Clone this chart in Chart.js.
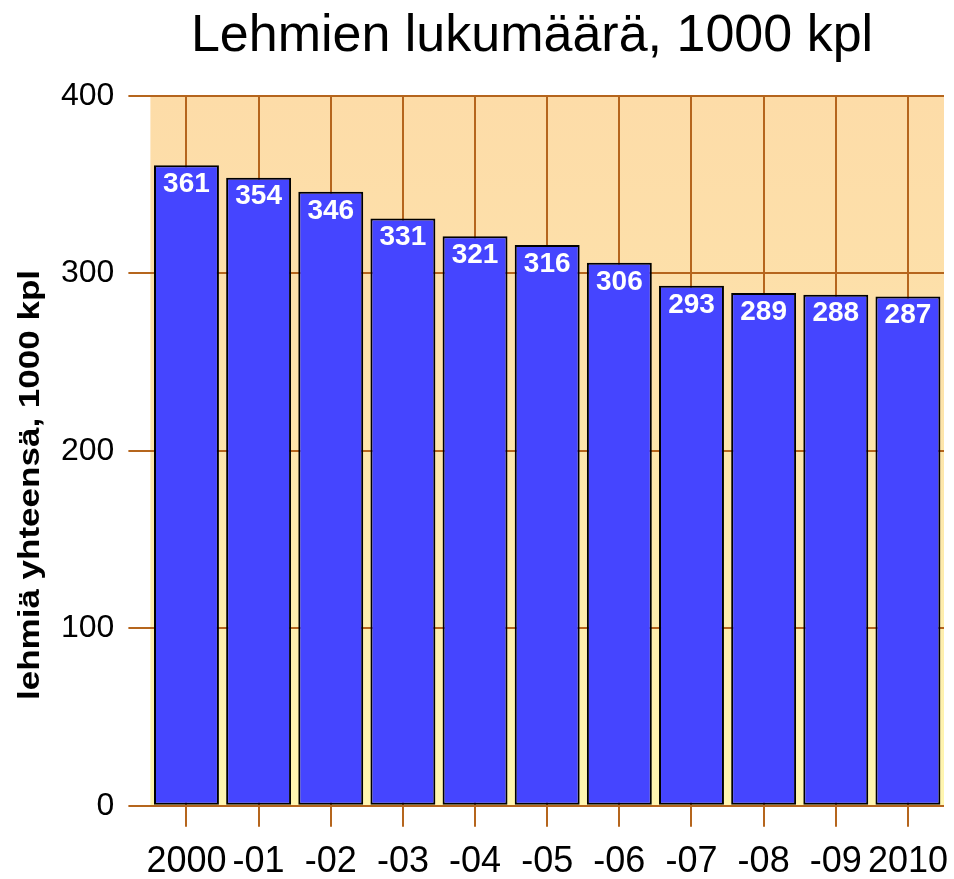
<!DOCTYPE html>
<html lang="fi">
  <head>
    <meta charset="UTF-8" />
    <title>Lehmien lukumäärä</title>
    <style>
      body {
        margin: 0;
        background: #ffffff;
        font-family: "Liberation Sans", Arial, sans-serif;
      }
      .wrap {
        width: 954px;
        height: 879px;
      }
    </style>
    <script src="https://cdn.jsdelivr.net/npm/chart.js"></script>
  </head>
  <body>
    <div class="wrap"><canvas id="cows"></canvas></div>

    <script>
      const years = ["2000", "-01", "-02", "-03", "-04", "-05", "-06", "-07", "-08", "-09", "2010"];
      const cows = [361, 354, 346, 331, 321, 316, 306, 293, 289, 288, 287];
      const yTicks = [0, 100, 200, 300, 400];

      const titleText = "Lehmien lukumäärä, 1000 kpl";
      const yTitleText = "lehmiä yhteensä, 1000 kpl";

      const brown = "#b5651d";
      const fontName = "'Liberation Sans', Arial, sans-serif";

      // peach-to-yellow fill behind the plot
      const plotBg = {
        id: "plotBg",
        beforeDraw(chart) {
          const { ctx, chartArea: a } = chart;
          const g = ctx.createLinearGradient(0, a.top, 0, a.bottom);
          g.addColorStop(0, "#fddca8");
          g.addColorStop(0.35, "#fde1aa");
          g.addColorStop(1, "#fff6b0");
          ctx.save();
          ctx.fillStyle = g;
          ctx.fillRect(a.left, a.top, a.right - a.left, a.bottom - a.top);
          ctx.restore();
        },
      };

      // white numbers inside the top of each bar
      const barValues = {
        id: "barValues",
        afterDatasetsDraw(chart) {
          const { ctx } = chart;
          const meta = chart.getDatasetMeta(0);
          ctx.save();
          ctx.fillStyle = "#ffffff";
          ctx.font = "bold 28px " + fontName;
          ctx.textAlign = "center";
          ctx.textBaseline = "top";
          meta.data.forEach((bar, i) => {
            ctx.fillText(String(cows[i]), bar.x, bar.y + 5);
          });
          ctx.restore();
        },
      };

      // main title and the (narrow, tall) y axis title
      const titles = {
        id: "titles",
        afterDraw(chart) {
          const { ctx } = chart;
          ctx.save();
          ctx.fillStyle = "#000000";
          ctx.textAlign = "center";
          ctx.textBaseline = "alphabetic";
          ctx.font = "52px " + fontName;
          ctx.fillText(titleText, 532, 51);

          ctx.font = "bold 30px " + fontName;
          const w = ctx.measureText(yTitleText).width;
          ctx.translate(39, 485);
          ctx.rotate(-Math.PI / 2);
          ctx.scale(430 / w, 1);
          ctx.fillText(yTitleText, 0, 0);
          ctx.restore();
        },
      };

      new Chart(document.getElementById("cows"), {
        type: "bar",
        data: {
          labels: years,
          datasets: [
            {
              data: cows,
              backgroundColor: "#4545ff",
              borderColor: "#000000",
              borderWidth: 2,
              borderSkipped: false,
              barPercentage: 0.9,
              categoryPercentage: 1.0,
            },
          ],
        },
        options: {
          responsive: true,
          maintainAspectRatio: false,
          animation: false,
          layout: { padding: { left: 47, right: 10, top: 96, bottom: -19 } },
          plugins: {
            legend: { display: false },
            tooltip: { enabled: false },
            title: { display: false },
          },
          scales: {
            x: {
              afterFit(scale) {
                // let the last label hang past the plot edge
                scale.paddingRight = 0;
              },
              border: { display: false },
              grid: {
                offset: false,
                color: brown,
                lineWidth: 2,
                tickLength: 21,
              },
              ticks: {
                autoSkip: false,
                maxRotation: 0,
                color: "#000000",
                padding: 14,
                font: { family: fontName, size: 36 },
              },
            },
            y: {
              min: 0,
              max: 400,
              afterBuildTicks(axis) {
                axis.ticks = yTicks.map((v) => ({ value: v }));
              },
              border: { display: false },
              grid: {
                color: brown,
                lineWidth: 2,
                tickLength: 22,
              },
              ticks: {
                color: "#000000",
                padding: 14,
                font: { family: fontName, size: 32 },
              },
            },
          },
        },
        plugins: [plotBg, barValues, titles],
      });
    </script>
  </body>
</html>
